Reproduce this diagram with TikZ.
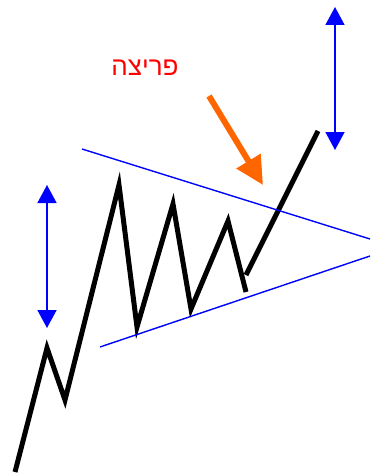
\documentclass[tikz,border=0pt]{standalone}
\usepackage{fontspec}
\newfontfamily\hebfont[Script=Hebrew]{Liberation Sans}
\TeXXeTstate=1
\usetikzlibrary{arrows.meta}
\definecolor{brkorange}{RGB}{255,102,0}

\begin{document}
\begin{tikzpicture}[x=1pt, y=-1pt,
    price/.style={line width=5pt, black},
    trend/.style={blue, line width=1.4pt},
    heightarrow/.style={blue, line width=1.6pt, {Triangle[length=18pt,width=19pt]}-{Triangle[length=18pt,width=19pt]}},
    brkarrow/.style={brkorange, line width=6pt, -{Triangle[length=28pt,width=27pt]}}]
    \useasboundingbox (0,0) rectangle (370,476);
    % price path
    \draw[price] (15,472) -- (47,348) -- (65,400) -- (119,185) -- (137,327)
        -- (173,204) -- (191,309) -- (228,221) -- (246,292);
    \draw[price] (246,275) -- (318,131);
    % triangle lines
    \draw[trend] (82,149) -- (370,239);
    \draw[trend] (100,347) -- (370,256);
    % height arrows
    \coordinate (lt) at (47,185);
    \coordinate (lb) at (47,328);
    \coordinate (rt) at (335,7);
    \coordinate (rb) at (335,150);
    \draw[heightarrow] (lt) -- (lb);
    \draw[heightarrow] (rt) -- (rb);
    % breakout label
    \node[red, font=\hebfont\fontsize{26}{28}\selectfont] (lbl) at (145,68) {\beginR פריצה\endR};
    \coordinate (bs) at (209,96);
    \coordinate (bt) at (263,185);
    \draw[brkarrow] (bs) -- (bt);
\end{tikzpicture}
\end{document}
